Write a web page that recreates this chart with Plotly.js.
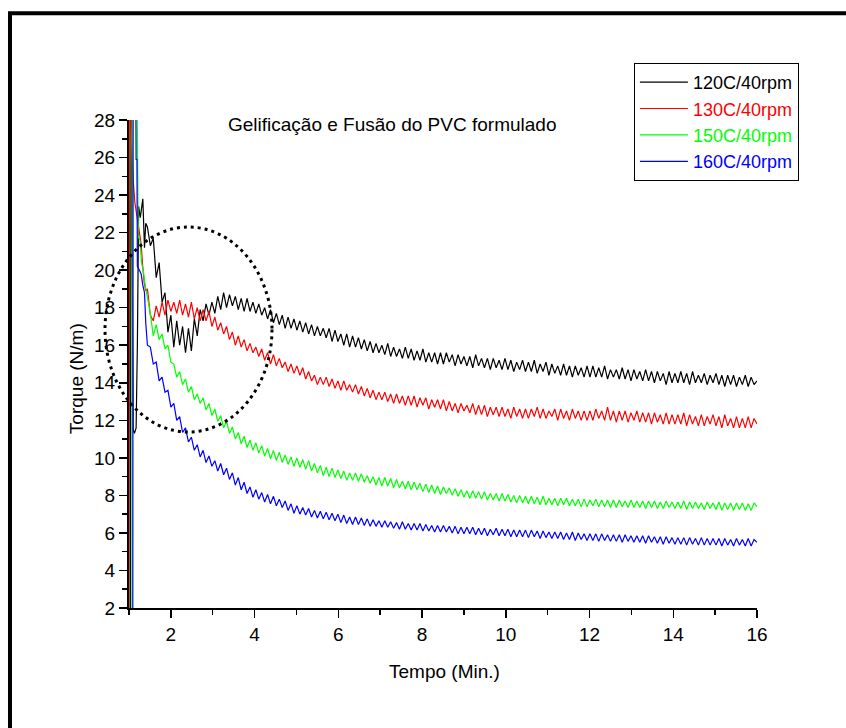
<!DOCTYPE html>
<html>
<head>
<meta charset="utf-8">
<script src="https://cdn.plot.ly/plotly-3.0.1.min.js"></script>
<style>html,body{margin:0;padding:0;background:#fff;}#chart{width:846px;height:728px;}</style>
</head>
<body>
<div id="chart"></div>
<script>
// ---- Data (time in min, torque in N/m) ----
const seriesNames = ["120C/40rpm", "130C/40rpm", "150C/40rpm", "160C/40rpm"];
const seriesColors = ["#000000", "#ff0000", "#00ff00", "#0000ff"];
const chartTitle = "Gelificação e Fusão do PVC formulado";
const xTitle = "Tempo (Min.)";
const yTitle = "Torque (N/m)";

// start-up phase, each curve has its own sampling
const t120early = [1.03, 1.05, 1.10, 1.13, 1.17, 1.20, 1.23, 1.27, 1.33, 1.37, 1.40];
const v120early = [-1, 31, 11.5, 11.3, 11.6, 16.0, 23.4, 22.8, 23.8, 21.2, 22.5];
const t130early = [1.00, 1.02, 1.05, 1.07, 1.10, 1.14, 1.18, 1.21, 1.25, 1.29, 1.32, 1.36, 1.40];
const v130early = [-1, 32, 27.5, 26.2, 24.8, 23.6, 23.0, 22.6, 21.9, 21.4, 20.4, 19.4, 18.9];
const t150early = [1.07, 1.075, 1.17, 1.20, 1.22, 1.26, 1.30, 1.34, 1.38];
const v150early = [-1, 33, 31, 27.6, 21.8, 21.6, 20.4, 20.0, 19.3];
const t160early = [1.09, 1.10, 1.16, 1.17, 1.19, 1.20, 1.25, 1.29, 1.33, 1.37, 1.40];
const v160early = [-1, 33, 31, 25.9, 25.9, 20.2, 20.0, 19.8, 19.2, 18.8, 17.2];

// common sampling for the rest of the run
const tMain = [
 1.44,1.51,1.58,1.65,1.72,1.79,1.86,1.93,2.00,2.07,
 2.14,2.21,2.28,2.35,2.42,2.49,2.56,2.63,2.70,2.77,
 2.84,2.91,2.98,3.05,3.12,3.19,3.26,3.33,3.40,3.47,
 3.54,3.61,3.68,3.75,3.82,3.89,3.96,4.03,4.10,4.17,
 4.24,4.31,4.38,4.45,4.52,4.59,4.66,4.73,4.80,4.87,
 4.94,5.01,5.08,5.15,5.22,5.29,5.36,5.43,5.50,5.57,
 5.64,5.71,5.78,5.85,5.92,5.99,6.06,6.13,6.20,6.27,
 6.34,6.41,6.48,6.55,6.62,6.69,6.76,6.83,6.90,6.97,
 7.04,7.11,7.18,7.25,7.32,7.39,7.46,7.53,7.60,7.67,
 7.74,7.81,7.88,7.95,8.02,8.09,8.16,8.23,8.30,8.37,
 8.44,8.51,8.58,8.65,8.72,8.79,8.86,8.93,9.00,9.07,
 9.14,9.21,9.28,9.35,9.42,9.49,9.56,9.63,9.70,9.77,
 9.84,9.91,9.98,10.05,10.12,10.19,10.26,10.33,10.40,10.47,
 10.54,10.61,10.68,10.75,10.82,10.89,10.96,11.03,11.10,11.17,
 11.24,11.31,11.38,11.45,11.52,11.59,11.66,11.73,11.80,11.87,
 11.94,12.01,12.08,12.15,12.22,12.29,12.36,12.43,12.50,12.57,
 12.64,12.71,12.78,12.85,12.92,12.99,13.06,13.13,13.20,13.27,
 13.34,13.41,13.48,13.55,13.62,13.69,13.76,13.83,13.90,13.97,
 14.04,14.11,14.18,14.25,14.32,14.39,14.46,14.53,14.60,14.67,
 14.74,14.81,14.88,14.95,15.02,15.09,15.16,15.23,15.30,15.37,
 15.44,15.51,15.58,15.65,15.72,15.79,15.86,15.93,16.00
];

const v120 = [
 22.3,21.3,21.7,19.6,20.4,18.3,18.8,16.7,17.6,15.9,
 17.3,16.0,17.0,15.6,16.9,15.7,17.4,16.5,17.9,17.3,
 18.2,17.6,18.3,17.7,18.6,17.9,18.8,18.0,18.7,18.1,
 18.6,17.9,18.5,17.8,18.5,17.8,18.3,17.7,18.2,17.6,
 18.0,17.4,17.9,17.2,17.7,17.1,17.6,16.9,17.5,16.9,
 17.4,16.8,17.3,16.7,17.2,16.6,17.1,16.5,17.0,16.5,
 16.9,16.4,16.9,16.2,16.8,16.2,16.6,16.0,16.6,15.9,
 16.5,15.9,16.4,15.8,16.3,15.7,16.2,15.6,16.1,15.6,
 16.0,15.5,16.1,15.4,15.9,15.4,15.8,15.3,15.9,15.3,
 15.8,15.2,15.7,15.2,15.8,15.1,15.6,15.1,15.6,15.0,
 15.6,15.0,15.6,15.1,15.5,14.9,15.5,15.0,15.4,14.9,
 15.4,14.8,15.5,14.9,15.3,14.8,15.3,14.7,15.3,14.8,
 15.2,14.7,15.3,14.7,15.2,14.6,15.1,14.7,15.2,14.6,
 15.1,14.6,15.2,14.5,15.0,14.6,15.1,14.4,15.0,14.5,
 14.9,14.4,15.0,14.4,14.9,14.3,14.9,14.4,14.8,14.3,
 14.9,14.3,14.9,14.3,14.8,14.3,14.9,14.2,14.7,14.3,
 14.7,14.2,14.8,14.2,14.7,14.1,14.7,14.2,14.6,14.1,
 14.7,14.1,14.6,14.0,14.6,14.1,14.5,13.9,14.6,14.0,
 14.5,14.0,14.6,14.0,14.5,13.9,14.6,14.0,14.4,14.0,
 14.5,13.9,14.4,14.0,14.5,13.9,14.4,13.8,14.4,13.9,
 14.4,13.8,14.3,13.9,14.4,13.8,14.3,13.9,14.1
];

const v130 = [
 19.0,17.6,17.3,18.1,17.5,18.3,17.6,18.4,17.8,18.3,
 17.7,18.4,17.6,18.2,17.5,18.3,17.4,18.0,17.3,17.9,
 17.3,17.8,17.0,17.5,16.8,17.2,16.6,17.0,16.3,16.7,
 16.0,16.5,15.9,16.3,15.7,16.1,15.6,15.9,15.4,15.8,
 15.2,15.6,15.0,15.5,14.9,15.3,14.8,15.1,14.6,15.0,
 14.5,14.9,14.4,14.8,14.2,14.6,14.1,14.4,13.9,14.3,
 13.9,14.3,13.8,14.2,13.7,14.1,13.6,14.1,13.6,13.9,
 13.5,13.9,13.4,13.8,13.3,13.7,13.2,13.6,13.1,13.5,
 13.1,13.5,13.0,13.4,12.9,13.4,12.9,13.3,12.8,13.3,
 12.8,13.3,12.7,13.2,12.8,13.2,12.6,13.1,12.7,13.1,
 12.6,13.1,12.5,13.0,12.5,12.9,12.4,12.9,12.5,12.8,
 12.4,12.9,12.3,12.8,12.3,12.8,12.2,12.7,12.3,12.7,
 12.2,12.7,12.2,12.6,12.1,12.7,12.2,12.6,12.1,12.6,
 12.1,12.6,12.2,12.7,12.1,12.6,12.1,12.5,12.2,12.6,
 12.0,12.6,12.1,12.5,12.0,12.6,12.1,12.5,12.0,12.5,
 12.0,12.5,12.0,12.6,12.1,12.5,12.0,12.7,12.0,12.5,
 11.9,12.5,12.0,12.5,11.9,12.4,12.0,12.5,11.9,12.4,
 11.9,12.4,11.8,12.4,11.9,12.3,11.8,12.4,11.8,12.3,
 11.8,12.3,11.8,12.4,11.7,12.3,11.8,12.2,11.7,12.3,
 11.7,12.2,11.8,12.3,11.7,12.2,11.6,12.3,11.7,12.1,
 11.6,12.2,11.6,12.1,11.6,12.2,11.6,12.1,11.8
];

const v150 = [
 18.6,17.7,16.5,17.1,16.3,16.6,15.8,16.0,15.1,15.0,
 14.3,14.6,13.9,14.2,13.5,13.8,13.1,13.4,12.9,13.2,
 12.55,12.9,12.25,12.6,11.95,12.25,11.6,11.95,11.3,11.65,
 11.0,11.35,10.75,11.15,10.55,10.95,10.4,10.8,10.25,10.65,
 10.1,10.5,9.95,10.4,9.85,10.3,9.75,10.15,9.65,10.05,
 9.55,10.0,9.5,9.9,9.4,9.85,9.3,9.7,9.2,9.6,
 9.05,9.5,9.0,9.45,8.95,9.35,8.9,9.3,8.8,9.2,
 8.8,9.2,8.75,9.15,8.7,9.05,8.65,9.0,8.55,8.95,
 8.5,8.95,8.5,8.9,8.4,8.85,8.4,8.75,8.35,8.75,
 8.3,8.7,8.3,8.65,8.2,8.6,8.15,8.55,8.1,8.5,
 8.05,8.45,8.1,8.4,8.0,8.35,7.95,8.3,7.9,8.25,
 7.85,8.25,7.85,8.2,7.8,8.2,7.75,8.1,7.75,8.1,
 7.7,8.1,7.7,8.05,7.65,8.0,7.6,8.0,7.6,7.95,
 7.55,7.95,7.55,7.9,7.5,7.95,7.5,7.85,7.5,7.85,
 7.45,7.85,7.5,7.85,7.45,7.8,7.45,7.8,7.4,7.8,
 7.4,7.75,7.45,7.8,7.4,7.75,7.4,7.75,7.35,7.75,
 7.35,7.75,7.4,7.7,7.35,7.75,7.35,7.7,7.35,7.7,
 7.3,7.7,7.35,7.7,7.3,7.65,7.3,7.7,7.35,7.65,
 7.3,7.65,7.3,7.7,7.25,7.65,7.3,7.65,7.3,7.6,
 7.25,7.65,7.3,7.6,7.25,7.65,7.2,7.6,7.25,7.6,
 7.2,7.6,7.25,7.6,7.2,7.55,7.2,7.6,7.4
];

const v160 = [
 16.0,15.9,15.0,15.1,14.1,14.3,13.5,13.6,12.7,12.9,
 12.0,12.2,11.35,11.6,10.85,11.1,10.4,10.7,10.05,10.4,
 9.75,10.1,9.55,9.85,9.3,9.7,9.1,9.45,8.85,9.2,
 8.55,8.95,8.3,8.7,8.1,8.45,7.9,8.3,7.8,8.15,
 7.65,8.05,7.55,7.95,7.45,7.8,7.35,7.7,7.2,7.55,
 7.05,7.45,7.0,7.35,6.95,7.3,6.85,7.2,6.8,7.15,
 6.75,7.1,6.7,7.05,6.65,7.0,6.55,6.95,6.5,6.85,
 6.45,6.85,6.45,6.8,6.4,6.75,6.35,6.7,6.35,6.65,
 6.3,6.65,6.3,6.6,6.25,6.55,6.2,6.6,6.2,6.5,
 6.15,6.5,6.15,6.5,6.1,6.45,6.1,6.4,6.05,6.4,
 6.05,6.4,6.05,6.35,6.0,6.35,5.95,6.3,5.95,6.3,
 5.95,6.3,5.9,6.25,5.9,6.25,5.85,6.2,5.9,6.25,
 5.85,6.2,5.85,6.2,5.8,6.15,5.8,6.15,5.8,6.15,
 5.75,6.15,5.8,6.1,5.7,6.1,5.75,6.05,5.7,6.05,
 5.7,6.05,5.65,6.0,5.65,6.05,5.6,6.0,5.65,5.95,
 5.6,5.95,5.6,5.95,5.55,5.95,5.6,5.9,5.55,5.9,
 5.55,5.9,5.5,5.9,5.55,5.85,5.5,5.85,5.5,5.85,
 5.45,5.85,5.5,5.8,5.45,5.8,5.4,5.8,5.45,5.75,
 5.4,5.75,5.4,5.75,5.35,5.75,5.4,5.7,5.35,5.75,
 5.35,5.7,5.35,5.7,5.35,5.7,5.3,5.7,5.35,5.65,
 5.3,5.7,5.35,5.65,5.3,5.7,5.3,5.65,5.5
];

const xRange = [1, 16];
const yRange = [2, 28];

// ---- build traces ----
const earlyT = [t120early, t130early, t150early, t160early];
const earlyV = [v120early, v130early, v150early, v160early];
const mainV = [v120, v130, v150, v160];

const traces = seriesNames.map((nm, i) => ({
  type: 'scatter',
  mode: 'lines',
  x: earlyT[i].concat(tMain),
  y: earlyV[i].concat(mainV[i]),
  name: i === 0 ? nm : '<span style="color:' + seriesColors[i] + '">' + nm + '</span>',
  line: {color: seriesColors[i], width: 1.2},
  hoverinfo: 'x+y'
}));

const axisCommon = {
  showline: true, linewidth: 2, linecolor: '#000',
  ticks: 'outside', ticklen: 8, tickwidth: 1.5, tickcolor: '#000',
  showgrid: false, zeroline: false,
  tickfont: {size: 19, color: '#000'},
  fixedrange: true
};

const layout = {
  width: 846, height: 728,
  margin: {l: 129, r: 89, t: 120, b: 120},
  paper_bgcolor: '#ffffff', plot_bgcolor: '#ffffff',
  font: {family: '"Liberation Sans", Arial, sans-serif', size: 19, color: '#000'},
  showlegend: true,
  legend: {
    x: 0.804, y: 1.117, xanchor: 'left', yanchor: 'top',
    bordercolor: '#000', borderwidth: 1, bgcolor: '#fff',
    font: {size: 18, color: '#000'}, tracegroupgap: 0, itemwidth: 48
  },
  xaxis: Object.assign({}, axisCommon, {
    range: xRange, tickmode: 'linear', tick0: 0, dtick: 2,
    minor: {ticks: 'outside', tick0: 1, dtick: 1, ticklen: 5, tickwidth: 1.5, tickcolor: '#000', showgrid: false}
  }),
  yaxis: Object.assign({}, axisCommon, {
    range: yRange, tickmode: 'linear', tick0: 0, dtick: 2,
    minor: {ticks: 'outside', tick0: 1, dtick: 1, ticklen: 5, tickwidth: 1.5, tickcolor: '#000', showgrid: false}
  }),
  annotations: [
    {text: chartTitle, xref: 'paper', yref: 'paper', x: 0.419, y: 0.99, xanchor: 'center', yanchor: 'middle', showarrow: false, font: {size: 19, color: '#000'}},
    {text: xTitle, xref: 'paper', yref: 'paper', x: 0.502, y: -0.131, xanchor: 'center', yanchor: 'middle', showarrow: false, font: {size: 19, color: '#000'}},
    {text: yTitle, xref: 'paper', yref: 'paper', x: -0.0844, y: 0.471, xanchor: 'center', yanchor: 'middle', textangle: -90, showarrow: false, font: {size: 19, color: '#000'}}
  ],
  shapes: [
    // page frame (cropped at right and bottom)
    {type: 'rect', xref: 'paper', yref: 'paper', x0: -0.1895, x1: 1.30, y0: -0.45, y1: 1.219,
     line: {color: '#000', width: 4}, fillcolor: 'rgba(0,0,0,0)', layer: 'above'},
    // dotted highlight ellipse
    {type: 'circle', xref: 'paper', yref: 'paper', x0: -0.0382, x1: 0.2277, y0: 0.3607, y1: 0.7807,
     line: {color: '#000', width: 3, dash: '3px,4px'}, fillcolor: 'rgba(0,0,0,0)', layer: 'above'}
  ]
};

Plotly.newPlot('chart', traces, layout, {staticPlot: true, displayModeBar: false});
</script>
</body>
</html>
